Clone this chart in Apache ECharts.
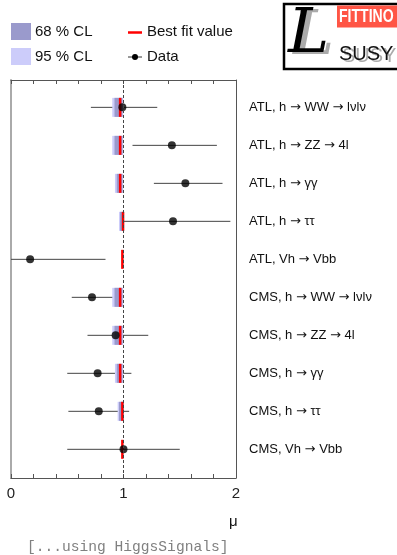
<!DOCTYPE html>
<html>
<head>
<meta charset="utf-8">
<script src="https://cdn.jsdelivr.net/npm/echarts@6/dist/echarts.min.js"></script>
<style>
  html, body { margin: 0; padding: 0; background: #fff; }
  #chart { width: 397px; height: 555px; }
</style>
</head>
<body>
<div id="chart"></div>
<script>
// channels, top to bottom ({a|} marks the arrow)
var channels = [
  "ATL, h {a|\u2192} WW {a|\u2192} l\u03bdl\u03bd",
  "ATL, h {a|\u2192} ZZ {a|\u2192} 4l",
  "ATL, h {a|\u2192} \u03b3\u03b3",
  "ATL, h {a|\u2192} \u03c4\u03c4",
  "ATL, Vh {a|\u2192} Vbb",
  "CMS, h {a|\u2192} WW {a|\u2192} l\u03bdl\u03bd",
  "CMS, h {a|\u2192} ZZ {a|\u2192} 4l",
  "CMS, h {a|\u2192} \u03b3\u03b3",
  "CMS, h {a|\u2192} \u03c4\u03c4",
  "CMS, Vh {a|\u2192} Vbb"
];
// measured signal strengths
var muData  = [0.99, 1.43, 1.55, 1.44, 0.17, 0.72, 0.93, 0.77, 0.78, 1.00];
var errLow  = [0.71, 1.08, 1.27, 0.97, -0.10, 0.54, 0.68, 0.50, 0.51, 0.50];
var errHigh = [1.30, 1.83, 1.88, 1.95, 0.84, 0.92, 1.22, 1.07, 1.05, 1.50];
// fit prediction
var bestFit = [0.97, 0.97, 0.97, 0.996, 0.99, 0.97, 0.97, 0.97, 0.99, 0.99];
var cl95Low  = [0.900, 0.900, 0.924, 0.960, 0.99, 0.900, 0.900, 0.924, 0.948, 0.99];
var cl95High = [0.998, 0.998, 0.998, 1.004, 0.99, 0.998, 0.998, 0.998, 1.004, 0.99];
var cl68Low  = [0.920, 0.920, 0.940, 0.970, 0.99, 0.920, 0.920, 0.940, 0.960, 0.99];
var cl68High = [0.990, 0.990, 0.990, 1.000, 0.99, 0.990, 0.990, 0.990, 1.000, 0.99];
var xTicks = [0, 1, 2];

var c95 = "#ccccfa", c68 = "#9a9acc", cRed = "#ff0000";
var font = "Liberation Sans, Arial, sans-serif";

var rows = channels.map(function (c, i) {
  return [i, cl95Low[i], cl95High[i], cl68Low[i], cl68High[i], bestFit[i], errLow[i], errHigh[i]];
});

function rectBetween(api, lo, hi, row, fill) {
  var a = api.coord([lo, row]), b = api.coord([hi, row]);
  var h = api.size([0, 0.5])[1];
  return { type: "rect", shape: { x: a[0], y: a[1] - h / 2, width: b[0] - a[0], height: h }, style: { fill: fill } };
}

var chart = echarts.init(document.getElementById("chart"), null, { renderer: "canvas" });

chart.setOption({
  animation: false,
  grid: { left: 11, right: 161, top: 80, bottom: 77, containLabel: false },
  xAxis: [{
    type: "value", min: 0, max: 2, interval: 0.2, position: "bottom",
    axisLine: { show: true, onZero: false, lineStyle: { color: "#555", width: 1 } },
    axisTick: { show: true, inside: true, length: 4, lineStyle: { color: "#555" } },
    splitLine: { show: false },
    axisLabel: {
      margin: 8, fontSize: 15, fontFamily: font, color: "#222",
      formatter: function (v) {
        var r = Math.round(v);
        return (Math.abs(v - r) < 1e-6 && xTicks.indexOf(r) >= 0) ? String(r) : "";
      }
    }
  }, {
    type: "value", min: 0, max: 2, interval: 0.2, position: "top",
    axisLine: { show: true, onZero: false, lineStyle: { color: "#555", width: 1 } },
    axisTick: { show: true, inside: true, length: 4, lineStyle: { color: "#555" } },
    splitLine: { show: false }, axisLabel: { show: false }
  }],
  yAxis: [{
    type: "value", min: -0.72, max: 9.755, inverse: true, position: "left",
    axisLine: { show: true, onZero: false, lineStyle: { color: "#aaa", width: 2 } },
    axisTick: { show: false }, axisLabel: { show: false }, splitLine: { show: false }
  }, {
    type: "value", min: -0.72, max: 9.755, inverse: true, position: "right",
    axisLine: { show: true, onZero: false, lineStyle: { color: "#555", width: 1 } },
    axisTick: { show: false }, axisLabel: { show: false }, splitLine: { show: false }
  }],
  series: [{
    // data error bars
    type: "custom", clip: true, z: 2,
    data: rows,
    renderItem: function (params, api) {
      var i = api.value(0);
      var a = api.coord([api.value(6), i]), b = api.coord([api.value(7), i]);
      return { type: "line", shape: { x1: a[0], y1: a[1], x2: b[0], y2: b[1] },
        style: { stroke: "#444", lineWidth: 1 } };
    }
  }, {
    // confidence bands and best fit
    type: "custom", clip: true, z: 3,
    data: rows,
    renderItem: function (params, api) {
      var i = api.value(0);
      var kids = [];
      kids.push(rectBetween(api, api.value(1), api.value(2), i, c95));
      kids.push(rectBetween(api, api.value(3), api.value(4), i, c68));
      var p = api.coord([api.value(5), i]);
      var h = api.size([0, 0.5])[1];
      kids.push({ type: "rect", shape: { x: p[0] - 1.25, y: p[1] - h / 2, width: 2.5, height: h }, style: { fill: cRed } });
      return { type: "group", children: kids };
    },
    markLine: {
      silent: true, symbol: "none", label: { show: false },
      lineStyle: { color: "#444", type: [3, 2], width: 1 },
      data: [{ xAxis: 1 }]
    }
  }, {
    type: "scatter", z: 4,
    symbol: "circle", symbolSize: 8,
    itemStyle: { color: "#000" },
    data: muData.map(function (v, i) { return [v, i]; })
  }, {
    // channel labels right of the frame
    type: "custom", clip: false, z: 5,
    data: rows,
    renderItem: function (params, api) {
      var i = api.value(0);
      var p = api.coord([2, i]);
      return { type: "text", x: p[0] + 13, y: p[1],
        style: { text: channels[i], fill: "#111", font: "13px " + font, verticalAlign: "middle",
          rich: { a: { fontFamily: "DejaVu Sans", fontSize: 13, fill: "#111" } } } };
    }
  }],
  graphic: [
    // legend
    { type: "rect", shape: { x: 11, y: 23, width: 20, height: 17 }, style: { fill: c68 } },
    { type: "text", x: 35, y: 32, style: { text: "68 % CL", font: "15px " + font, fill: "#111", verticalAlign: "middle" } },
    { type: "rect", shape: { x: 11, y: 48, width: 20, height: 17 }, style: { fill: c95 } },
    { type: "text", x: 35, y: 57, style: { text: "95 % CL", font: "15px " + font, fill: "#111", verticalAlign: "middle" } },
    { type: "line", shape: { x1: 128, y1: 32.5, x2: 142, y2: 32.5 }, style: { stroke: cRed, lineWidth: 2.5 } },
    { type: "text", x: 147, y: 32, style: { text: "Best fit value", font: "15px " + font, fill: "#111", verticalAlign: "middle" } },
    { type: "line", shape: { x1: 128, y1: 57, x2: 142, y2: 57 }, style: { stroke: "#333", lineWidth: 1 } },
    { type: "circle", shape: { cx: 135, cy: 57, r: 3 }, style: { fill: "#000" } },
    { type: "text", x: 147, y: 57, style: { text: "Data", font: "15px " + font, fill: "#111", verticalAlign: "middle" } },
    // axis title and note
    { type: "text", x: 229, y: 522, style: { text: "\u03bc", font: "15px " + font, fill: "#111", verticalAlign: "middle" } },
    { type: "text", x: 27, y: 547, style: { text: "[...using HiggsSignals]", font: "14.6px Liberation Mono, monospace", fill: "#808080", verticalAlign: "middle" } },
    // logo
    { type: "rect", shape: { x: 284, y: 4, width: 120, height: 65 }, style: { fill: "#fff", stroke: "#000", lineWidth: 2.5 } },
    { type: "rect", shape: { x: 337, y: 5.5, width: 62, height: 22 }, style: { fill: "#ff5545" } },
    { type: "text", x: 339, y: 17, scaleX: 0.74, style: { text: "FITTINO", font: "bold 19px " + font, fill: "#fff", verticalAlign: "middle" } },
    { type: "text", x: 293, y: 38, style: { text: "L", font: "italic 62px DejaVu Serif, serif", fill: "#aaa", verticalAlign: "middle" } },
    { type: "text", x: 288, y: 36, style: { text: "L", font: "italic 62px DejaVu Serif, serif", fill: "#000", verticalAlign: "middle" } },
    { type: "text", x: 342, y: 56, style: { text: "SUSY", font: "20px " + font, fill: "#aaa", verticalAlign: "middle" } },
    { type: "text", x: 339, y: 54, style: { text: "SUSY", font: "20px " + font, fill: "#111", verticalAlign: "middle" } }
  ]
});
</script>
</body>
</html>
